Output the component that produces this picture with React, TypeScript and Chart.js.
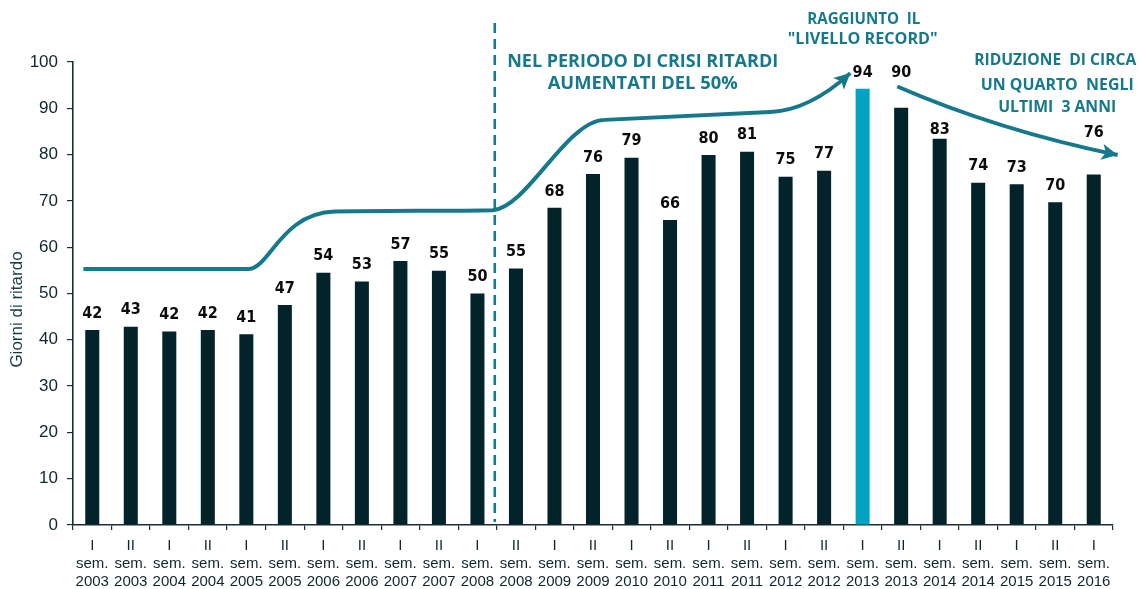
import React, { useEffect, useRef } from "react";
import { Chart, registerables } from "chart.js";

Chart.register(...registerables);

// ---------- data ----------
const semesters = [
  "I", "II", "I", "II", "I", "II", "I", "II", "I", "II", "I", "II", "I", "II",
  "I", "II", "I", "II", "I", "II", "I", "II", "I", "II", "I", "II", "I",
];
const years = [
  "2003", "2003", "2004", "2004", "2005", "2005", "2006", "2006", "2007", "2007",
  "2008", "2008", "2009", "2009", "2010", "2010", "2011", "2011", "2012", "2012",
  "2013", "2013", "2014", "2014", "2015", "2015", "2016",
];
const delays = [
  42.1, 42.8, 41.8, 42.1, 41.2, 47.5, 54.5, 52.6, 57.0, 54.9, 50.0, 55.4, 68.5, 75.8,
  79.3, 65.9, 79.9, 80.6, 75.2, 76.5, 94.2, 90.1, 83.4, 73.9, 73.6, 69.7, 75.7,
];
const valueLabels = [
  42, 43, 42, 42, 41, 47, 54, 53, 57, 55, 50, 55, 68, 76, 79, 66, 80, 81, 75, 77,
  94, 90, 83, 74, 73, 70, 76,
];
const yTicks = [0, 10, 20, 30, 40, 50, 60, 70, 80, 90, 100];
const highlightIndex = 20;
const axisTitle = "Giorni di ritardo";

// ---------- annotation config (in category-index / value units) ----------
const labelOverrides: Record<number, number> = { 21: 97.6, 22: 85.3, 26: 84.7 };
const dividerAt = { index: 10.45, top: 108.4 };

type Seg = (string | number)[];
const leftArrow: Seg[] = [
  ["M", -0.23, 55.3],
  ["L", 4.05, 55.3],
  ["C", 4.6, 55.3, 4.9, 67.4, 6.3, 67.7],
  ["C", 7.5, 67.9, 9.5, 67.8, 10.4, 68.0],
  ["C", 11.3, 68.6, 12.3, 87.3, 13.3, 87.5],
  ["C", 15.0, 88.2, 16.6, 88.8, 17.6, 89.2],
  ["C", 18.4, 89.5, 19.1, 93.2, 19.68, 97.6],
];
const rightArrow: Seg[] = [
  ["M", 20.9, 94.7],
  ["Q", 23.5, 85.3, 26.62, 79.9],
];

const notes = [
  { text: "NEL PERIODO DI CRISI RITARDI", at: [14.29, 100.1], size: 18, width: 271 },
  { text: "AUMENTATI DEL 50%", at: [14.29, 95.3], size: 18, width: 190 },
  { text: "RAGGIUNTO  IL", at: [20.03, 109.3], size: 16, width: 113 },
  { text: "\"LIVELLO RECORD\"", at: [20.0, 104.8], size: 16, width: 150 },
  { text: "RIDUZIONE  DI CIRCA", at: [25.0, 100.4], size: 16, width: 162 },
  { text: "UN QUARTO  NEGLI", at: [25.05, 94.9], size: 16, width: 153 },
  { text: "ULTIMI  3 ANNI", at: [25.05, 90.1], size: 16, width: 118 },
];

const TEAL = "#16798b";
const BAR = "#03232b";
const HIGHLIGHT = "#00a3c4";
const AXIS = "#1b2f36";
const TICK_TEXT = "#10262d";

function drawArrowHead(ctx: CanvasRenderingContext2D, tip: number[], from: number[], len: number, half: number) {
  const ang = Math.atan2(tip[1] - from[1], tip[0] - from[0]);
  ctx.save();
  ctx.translate(tip[0], tip[1]);
  ctx.rotate(ang);
  ctx.beginPath();
  ctx.moveTo(0, 0);
  ctx.lineTo(-len, -half);
  ctx.lineTo(-len * 0.75, 0);
  ctx.lineTo(-len, half);
  ctx.closePath();
  ctx.fill();
  ctx.restore();
}

function drawPath(ctx: CanvasRenderingContext2D, segs: Seg[], xs: any, ys: any) {
  const P = (i: number, v: number) => [xs.getPixelForValue(i), ys.getPixelForValue(v)];
  ctx.beginPath();
  let last: number[] = [0, 0];
  let prev: number[] = [0, 0];
  for (const s of segs) {
    const t = s[0] as string;
    const n = s.slice(1) as number[];
    if (t === "M") {
      const p = P(n[0], n[1]);
      ctx.moveTo(p[0], p[1]);
      prev = last; last = p;
    } else if (t === "L") {
      const p = P(n[0], n[1]);
      ctx.lineTo(p[0], p[1]);
      prev = last; last = p;
    } else if (t === "C") {
      const a = P(n[0], n[1]), b = P(n[2], n[3]), p = P(n[4], n[5]);
      ctx.bezierCurveTo(a[0], a[1], b[0], b[1], p[0], p[1]);
      prev = b; last = p;
    } else if (t === "Q") {
      const a = P(n[0], n[1]), p = P(n[2], n[3]);
      ctx.quadraticCurveTo(a[0], a[1], p[0], p[1]);
      prev = a; last = p;
    }
  }
  ctx.stroke();
  return { tip: last, from: prev };
}

const annotationPlugin = {
  id: "annotations",
  afterDatasetsDraw(chart: any) {
    const ctx: CanvasRenderingContext2D = chart.ctx;
    const xs = chart.scales.x;
    const ys = chart.scales.y;
    ctx.save();

    // divider
    const dx = xs.getPixelForValue(dividerAt.index);
    ctx.strokeStyle = TEAL;
    ctx.lineWidth = 2.6;
    ctx.setLineDash([10, 6]);
    ctx.beginPath();
    ctx.moveTo(dx, ys.getPixelForValue(dividerAt.top));
    ctx.lineTo(dx, ys.getPixelForValue(0) - 3);
    ctx.stroke();
    ctx.setLineDash([]);

    // arrows
    ctx.strokeStyle = TEAL;
    ctx.fillStyle = TEAL;
    ctx.lineWidth = 4;
    ctx.lineCap = "butt";
    ctx.lineJoin = "round";
    const a1 = drawPath(ctx, leftArrow, xs, ys);
    drawArrowHead(ctx, a1.tip, a1.from, 16, 8);
    const a2 = drawPath(ctx, rightArrow, xs, ys);
    drawArrowHead(ctx, a2.tip, a2.from, 16, 8);

    // notes
    ctx.fillStyle = TEAL;
    ctx.textAlign = "center";
    ctx.textBaseline = "middle";
    for (const n of notes) {
      ctx.font = `bold ${n.size}px "Open Sans", "Liberation Sans", sans-serif`;
      const w = ctx.measureText(n.text).width;
      const sx = n.width / w;
      ctx.save();
      ctx.translate(xs.getPixelForValue(n.at[0]), ys.getPixelForValue(n.at[1]));
      ctx.scale(sx, 1);
      ctx.fillText(n.text, 0, 0);
      ctx.restore();
    }

    // value labels
    ctx.fillStyle = "#0c0c0c";
    ctx.font = 'bold 16px "DejaVu Sans", Verdana, sans-serif';
    const meta = chart.getDatasetMeta(0);
    meta.data.forEach((bar: any, i: number) => {
      const y = labelOverrides[i] !== undefined
        ? ys.getPixelForValue(labelOverrides[i])
        : bar.y - 16.5;
      ctx.save();
      ctx.translate(bar.x, y);
      ctx.scale(0.9, 1);
      ctx.fillText(String(valueLabels[i]), 0, 0);
      ctx.restore();
    });

    // y title
    ctx.save();
    ctx.fillStyle = "#163b45";
    ctx.font = '17px "Liberation Sans", Arial, sans-serif';
    ctx.translate(17, (chart.chartArea.top + chart.chartArea.bottom) / 2 + 16);
    ctx.rotate(-Math.PI / 2);
    ctx.fillText(axisTitle, 0, 0);
    ctx.restore();

    ctx.restore();
  },
};

export default function App() {
  const ref = useRef<HTMLCanvasElement | null>(null);
  useEffect(() => {
    if (!ref.current) return;
    const chart = new Chart(ref.current, {
      type: "bar",
      data: {
        labels: semesters.map((s, i) => [s, "sem.", years[i]]),
        datasets: [
          {
            data: delays,
            backgroundColor: delays.map((_, i) => (i === highlightIndex ? HIGHLIGHT : BAR)),
            borderWidth: 0,
            categoryPercentage: 1,
            barPercentage: 0.364,
          },
        ],
      },
      options: {
        animation: false,
        responsive: false,
        devicePixelRatio: 1,
        layout: { padding: { top: 62, right: 26, left: 0, bottom: 0 } },
        plugins: { legend: { display: false }, tooltip: { enabled: false }, title: { display: false } },
        scales: {
          x: {
            offset: true,
            grid: {
              display: true,
              drawOnChartArea: false,
              drawTicks: true,
              tickLength: 5,
              color: AXIS,
              lineWidth: 1.2,
              offset: true,
            },
            border: { display: true, color: AXIS, width: 1.6 },
            ticks: {
              color: TICK_TEXT,
              font: { family: '"Liberation Sans", Arial, sans-serif', size: 15, lineHeight: 1.2 },
              padding: 7,
              maxRotation: 0,
              minRotation: 0,
              autoSkip: false,
            },
            afterFit: (s: any) => {
              s.height = 64;
            },
          },
          y: {
            min: 0,
            max: 100,
            afterBuildTicks: (s: any) => {
              s.ticks = yTicks.map((v) => ({ value: v }));
            },
            grid: {
              display: true,
              drawOnChartArea: false,
              drawTicks: true,
              tickLength: 6,
              color: AXIS,
              lineWidth: 1.2,
            },
            border: { display: true, color: AXIS, width: 1.6 },
            ticks: {
              color: TICK_TEXT,
              font: { family: '"Liberation Sans", Arial, sans-serif', size: 17 },
              padding: 9,
            },
            afterFit: (s: any) => {
              s.width = 73;
            },
          },
        },
      },
      plugins: [annotationPlugin],
    });
    return () => chart.destroy();
  }, []);

  return (
    <div style={{ position: "fixed", left: 0, top: 0, width: 1139, height: 589, background: "#fff" }}>
      <canvas ref={ref} width={1139} height={589} style={{ width: 1139, height: 589, display: "block" }} />
    </div>
  );
}
